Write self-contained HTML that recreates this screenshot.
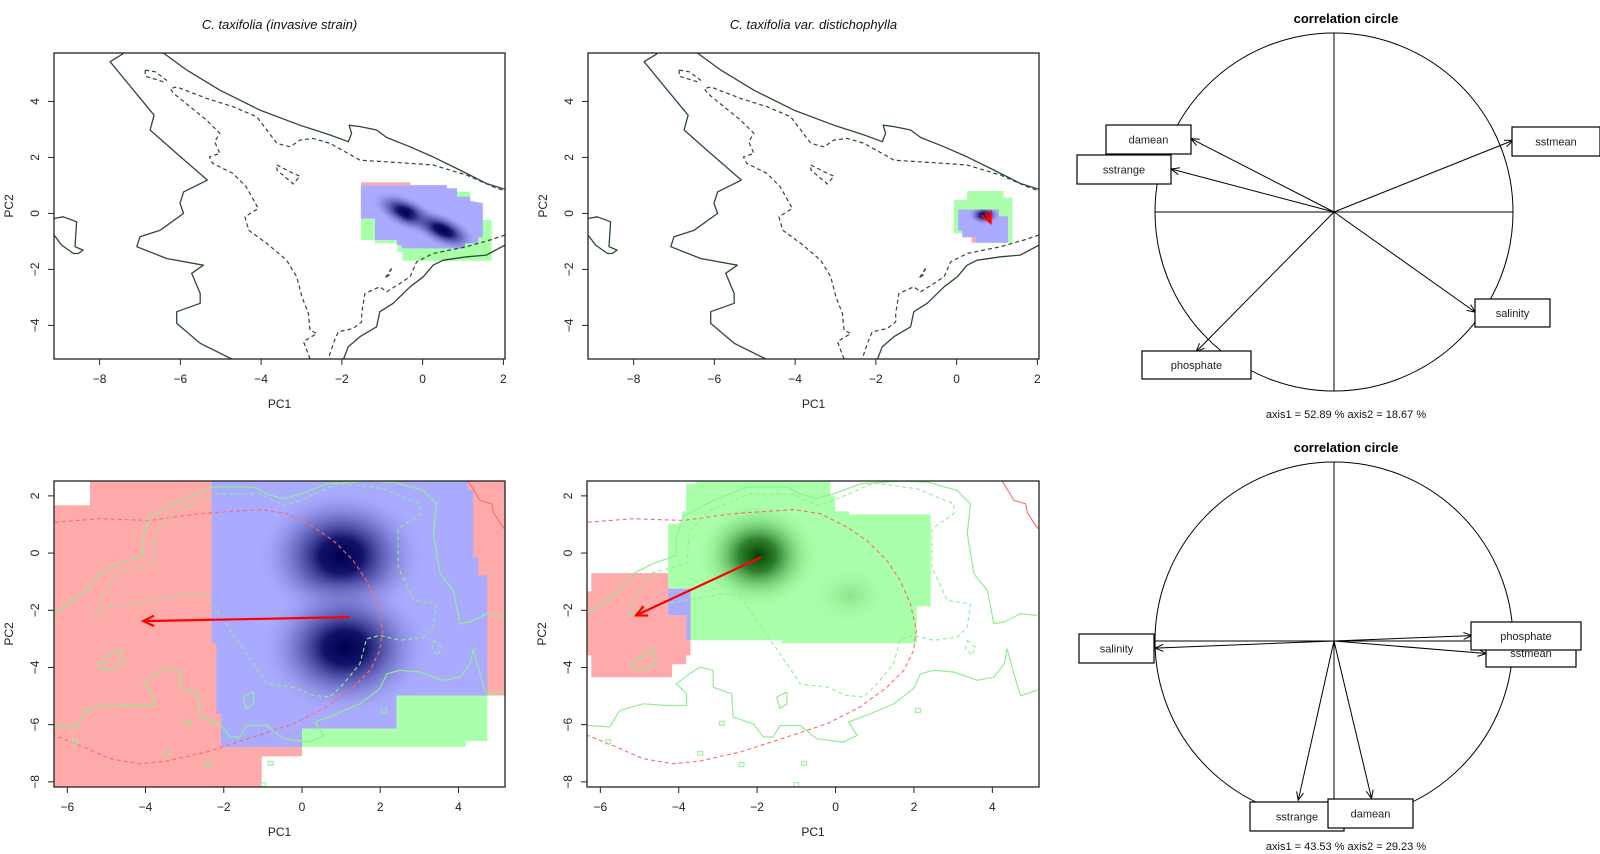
<!DOCTYPE html>
<html><head><meta charset="utf-8"><style>
html,body{margin:0;padding:0;background:#fff;}
svg{display:block;font-family:"Liberation Sans",Arial,sans-serif;}
</style></head><body>
<svg id="fig" width="1600" height="854" viewBox="0 0 1600 854" xmlns="http://www.w3.org/2000/svg">
<defs>
<radialGradient id="gNavy"><stop offset="0" stop-color="#000050" stop-opacity="1"/><stop offset="0.25" stop-color="#0a0a60" stop-opacity="0.95"/><stop offset="0.6" stop-color="#5050a8" stop-opacity="0.5"/><stop offset="1" stop-color="#aaaaff" stop-opacity="0"/></radialGradient>
<radialGradient id="gDkGreen"><stop offset="0" stop-color="#004000" stop-opacity="1"/><stop offset="0.3" stop-color="#1a6a1a" stop-opacity="0.85"/><stop offset="0.65" stop-color="#60c060" stop-opacity="0.4"/><stop offset="1" stop-color="#aaffaa" stop-opacity="0"/></radialGradient>
<radialGradient id="gLtGreen"><stop offset="0" stop-color="#80d880" stop-opacity="0.7"/><stop offset="1" stop-color="#aaffaa" stop-opacity="0"/></radialGradient>
</defs>
</svg>
<script>
// ===== data =====
const topXTicks = [-8,-6,-4,-2,0,2];
const topYTicks = [-4,-2,0,2,4];
const botXTicks = [-6,-4,-2,0,2,4];
const botYTicks = [-8,-6,-4,-2,0,2];
const tickText = t => (t<0?'\u2212'+(-t):''+t);

// top panels: environmental contours (dark green)
const envSolidA = [[-7.41,5.71],[-7.74,5.42],[-7.16,4.40],[-6.65,3.51],[-6.75,2.98],[-6.09,2.14],[-5.33,1.19],[-5.92,0.77],[-6.01,0.36],[-5.92,0],[-6.50,-0.60],[-7.0,-0.83],[-7.08,-1.19],[-6.34,-1.61],[-5.43,-1.85],[-5.72,-2.14],[-5.51,-2.86],[-5.51,-3.21],[-6.09,-3.51],[-6.09,-3.93],[-5.51,-4.64],[-4.73,-5.2]];
const envSolidB = [[-6.42,5.73],[-5.84,5.12],[-5.02,4.40],[-4.03,3.69],[-3.04,3.15],[-2.29,2.80],[-1.84,2.56],[-1.76,2.86],[-1.82,3.15],[-1.55,3.10],[-1.14,2.98],[-0.89,2.71],[-0.31,2.38],[0.26,2.02],[0.92,1.55],[1.58,1.07],[2.04,0.86]];
const envSolidC = [[2.04,-1.13],[1.58,-1.49],[1.09,-1.55],[0.51,-1.67],[0.26,-1.85],[0.02,-2.26],[-0.31,-2.62],[-0.73,-3.21],[-1.06,-3.51],[-1.14,-4.05],[-1.55,-4.40],[-1.84,-4.76],[-1.96,-5.2]];
const envSolidD = [[-9.13,-0.18],[-8.9,-0.12],[-8.57,-0.30],[-8.61,-1.19],[-8.41,-1.31],[-8.53,-1.43],[-8.65,-1.43],[-8.94,-1.13],[-9.13,-0.77]];
const envDashE = [[-6.87,5.12],[-6.62,5.06],[-6.34,4.76],[-6.42,4.70],[-6.87,4.90],[-6.87,5.12]];
const envDashF = [[-2.79,-5.2],[-2.95,-4.58],[-2.62,-4.29],[-2.79,-4.17],[-2.83,-3.57],[-2.99,-2.98],[-3.12,-2.26],[-3.37,-1.67],[-3.86,-1.07],[-4.31,-0.60],[-4.4,-0.12],[-4.07,0.18],[-4.37,0.95],[-4.7,1.43],[-5.2,1.79],[-5.28,2.02],[-5.02,2.14],[-5.15,2.56],[-5.02,2.86],[-5.35,3.33],[-5.76,3.81],[-6.17,4.29],[-6.25,4.46],[-6.09,4.52],[-5.35,4.11],[-4.69,3.81],[-4.11,3.45],[-3.86,2.98],[-3.61,2.5],[-3.28,2.38],[-3.04,2.62],[-2.71,2.68],[-2.29,2.5],[-1.55,1.90],[-0.56,1.81],[0.26,1.73],[1.09,1.37],[1.75,0.95],[2.04,0.80]];
const envDashG = [[-3.61,1.73],[-3.2,1.43],[-3.04,1.33],[-3.2,1.05],[-3.61,1.55],[-3.61,1.73]];
const envDashH = [[2.04,-0.77],[1.67,-0.95],[1.09,-1.19],[0.26,-1.43],[-0.15,-1.73],[-0.31,-2.26],[-0.56,-2.5],[-0.89,-2.8],[-1.06,-2.62],[-1.43,-2.86],[-1.51,-3.57],[-1.51,-3.87],[-1.72,-4.11],[-2.09,-4.23],[-2.21,-4.64],[-2.34,-5.2]];
const envDashI = [[-0.77,-1.96],[-0.93,-2.32],[-0.83,-2.2],[-0.77,-1.96]];

// top-left niche fills
const tlGreen = [[-1.53,-0.18],[-1.53,-0.95],[-1.18,-0.95],[-1.18,-1.07],[-0.62,-1.07],[-0.62,-1.37],[-0.5,-1.37],[-0.5,-1.69],[1.71,-1.69],[1.71,-0.24],[1.49,-0.24],[1.49,0.38],[1.18,0.38],[1.18,0.78],[0.6,0.78],[0.6,0.95],[-1.53,0.95]];
const tlBlue = [[-1.53,1.01],[0.6,1.01],[0.6,0.9],[0.85,0.9],[0.85,0.6],[1.17,0.6],[1.17,0.45],[1.49,0.36],[1.49,-0.85],[1.38,-0.85],[1.38,-1.07],[1.05,-1.07],[1.05,-1.25],[-0.52,-1.25],[-0.52,-1.13],[-0.64,-1.13],[-0.64,-0.95],[-1.18,-0.95],[-1.18,-0.18],[-1.53,-0.18]];
const tlRed = [[-1.53,1.11],[-0.3,1.11],[-0.3,1.01],[-1.53,1.01]];
const tlBlobs = [[-0.4,0.02,0.95,0.6],[0.5,-0.6,0.95,0.6]];
// top-middle niche fills
const tmGreen = [[-0.07,0.48],[0.26,0.48],[0.26,0.8],[1.16,0.8],[1.16,0.57],[1.38,0.57],[1.38,-1.05],[0.47,-1.05],[0.47,-0.85],[0.14,-0.85],[0.14,-0.71],[-0.07,-0.71]];
const tmBlue = [[0.04,0.14],[1.05,0.14],[1.05,-0.1],[1.27,-0.1],[1.27,-1.05],[0.47,-1.05],[0.47,-0.85],[0.14,-0.85],[0.14,-0.62],[0.04,-0.62]];
const tmRed = [[0.37,-0.86],[0.47,-0.86],[0.47,-1.05],[0.37,-1.05]];
const tmBlobs = [[0.68,-0.06,0.4,0.35]];
const tmArrow = [[0.72,0.04],[0.84,-0.33]];

// bottom panels: species occurrence contours
const spRedDash = [[-6.32,1.08],[-5.17,1.2],[-3.89,1.14],[-2.61,1.38],[-1.07,1.52],[-0.39,1.38],[0.29,0.91],[0.8,0.44],[1.31,-0.26],[1.65,-0.96],[1.91,-1.77],[2.06,-2.7],[1.99,-3.4],[1.74,-4.1],[1.31,-4.69],[0.63,-5.38],[-0.22,-5.97],[-1.24,-6.43],[-2.44,-6.96],[-3.46,-7.27],[-4.14,-7.37],[-4.91,-7.19],[-5.59,-6.78],[-6.32,-6.38]];
const spRedSolid = [[4.25,2.52],[4.55,1.84],[4.85,1.72],[4.89,1.43],[5.02,1.14],[5.17,0.85]];
const spGreenA = [[-6.32,-2.1],[-5.59,-1.42],[-5.17,-0.72],[-4.65,-0.37],[-4.06,-0.08],[-4.06,0.56],[-3.89,1.26],[-3.21,1.78],[-2.27,2.31],[-1.24,2.31],[-0.9,2.07],[-0.48,1.9],[-0.05,2.07],[0.63,2.42],[1.65,2.52],[2.34,2.48],[3.1,2.19],[3.44,1.72],[3.36,0.68],[3.53,-0.72],[3.87,-1.31],[4.04,-2.47],[4.3,-2.41],[4.72,-2.12],[5.15,-2.18]];
const spGreenB = [[-6.32,-6.03],[-5.76,-6.08],[-5.5,-5.5],[-4.91,-5.27],[-4.31,-5.33],[-3.8,-5.33],[-3.8,-4.92],[-4.06,-4.57],[-3.72,-4.22],[-3.46,-3.99],[-3.12,-4.1],[-3.12,-4.69],[-2.65,-4.92],[-2.61,-5.73],[-2.1,-5.97],[-1.84,-6.43],[-1.59,-6.43],[-1.42,-6.03],[-0.9,-6.03],[-0.48,-6.49],[0.2,-6.61],[0.55,-6.38],[0.33,-5.91],[0.89,-5.62],[1.48,-5.27],[1.99,-4.74],[2.17,-4.22],[2.51,-4.1],[3.02,-4.16],[3.61,-4.45],[4.04,-4.34],[4.3,-3.87],[4.38,-3.35],[4.55,-4.22],[4.72,-4.98],[5.15,-4.8]];
const spGreenC = [[-5.21,-3.87],[-4.65,-3.34],[-4.57,-3.81],[-4.83,-4.04],[-5.17,-4.04],[-5.21,-3.87]];
const spGreenD = [[-1.5,-5.03],[-1.24,-4.86],[-1.24,-5.27],[-1.42,-5.44],[-1.5,-5.03]];
const spGreenDash = [[-5.29,-2.18],[-5.08,-1.42],[-4.74,-0.72],[-3.8,-0.37],[-3.72,0.79],[-3.21,1.49],[-2.18,2.07],[-1.07,2.07],[-0.48,1.67],[-0.05,1.84],[0.97,2.45],[2.08,2.25],[3.02,1.72],[3.02,1.38],[2.46,0.85],[2.46,-0.49],[2.85,-1.66],[3.44,-1.77],[3.36,-2.59],[3.1,-2.94],[2.51,-3.05],[1.99,-2.88],[1.65,-3.0],[1.48,-3.87],[1.06,-4.57],[0.72,-5.03],[0.29,-4.98],[-0.22,-4.69],[-0.9,-4.57],[-1.42,-3.52],[-2.01,-2.35],[-2.44,-1.48],[-2.86,-1.42],[-3.63,-1.6],[-4.31,-1.77],[-4.91,-1.89],[-5.29,-2.18]];
const spGreenDash2 = [[3.36,-3.05],[3.57,-3.29],[3.48,-3.58],[3.32,-3.35],[3.36,-3.05]];
const spSmallSq = [[-2.9,-5.95],[-3.45,-7.0],[-5.8,-6.6],[-2.4,-7.4],[-0.8,-7.35],[2.1,-5.5],[-1.0,-8.1]];

// bottom-left niche fills
const blRed = [[-6.34,1.67],[-5.42,1.67],[-5.42,2.52],[5.19,2.52],[5.19,-4.98],[0,-4.98],[0,-7.11],[-1.03,-7.11],[-1.03,-8.18],[-6.34,-8.18]];
const blBlue = [[-2.31,2.52],[4.25,2.52],[4.25,2.19],[4.38,2.19],[4.38,-0.14],[4.51,-0.14],[4.51,-0.78],[4.74,-0.78],[4.74,-4.98],[2.42,-4.98],[2.42,-6.14],[0,-6.14],[0,-6.78],[-2.07,-6.78],[-2.07,-5.62],[-2.19,-5.62],[-2.19,-3.15],[-2.31,-3.15]];
const blGreen = [[0,-6.14],[2.42,-6.14],[2.42,-4.98],[4.74,-4.98],[4.74,-6.57],[4.18,-6.57],[4.18,-6.78],[0,-6.78]];
const blBlobs = [[1.0,-0.1,2.2,2.4],[1.1,-3.3,2.2,2.4]];
const blArrow = [[1.21,-2.24],[-4.06,-2.38]];
// bottom-middle niche fills
const bmGreen = [[-3.81,2.43],[-3.55,2.43],[-3.55,2.52],[-0.13,2.52],[-0.13,1.98],[-0.01,1.98],[-0.01,1.46],[0.35,1.46],[0.35,1.35],[2.43,1.35],[2.43,-1.86],[2.07,-1.86],[2.07,-3.15],[-1.38,-3.15],[-1.38,-3.05],[-3.7,-3.05],[-3.7,-1.25],[-4.27,-1.25],[-4.27,1.03],[-3.92,1.03],[-3.92,1.46],[-3.81,1.46]];
const bmBlue = [[-4.27,-1.25],[-3.7,-1.25],[-3.7,-3.05],[-3.81,-3.05],[-3.81,-2.18],[-4.27,-2.18]];
const bmRed = [[-6.23,-0.7],[-4.27,-0.7],[-4.27,-2.18],[-3.81,-2.18],[-3.81,-3.05],[-3.7,-3.05],[-3.7,-3.58],[-3.81,-3.58],[-3.81,-3.89],[-4.17,-3.89],[-4.17,-4.34],[-6.23,-4.34],[-6.23,-3.58],[-6.34,-3.58],[-6.34,-1.34],[-6.23,-1.34]];
const bmDarkBlob = [[-1.98,-0.08,1.6,1.9]];
const bmLightBlob = [[0.37,-1.48,1.1,1.1]];
const bmArrow = [[-1.89,-0.14],[-5.09,-2.18]];

// correlation circles
const cc1Vars = ['damean','sstrange','sstmean','salinity','phosphate'];
const cc1X = [-0.80,-0.91,1.00,0.79,-0.77];
const cc1Y = [0.41,0.24,0.40,-0.56,-0.78];
const cc1Axis = 'axis1 =  52.89 % axis2 =  18.67 %';
const cc2Vars = ['sstmean','phosphate','salinity','sstrange','damean'];
const cc2X = [0.85,0.77,-1.00,-0.20,0.21];
const cc2Y = [-0.07,0.03,-0.04,-0.89,-0.88];
const cc2Axis = 'axis1 =  43.53 % axis2 =  29.23 %';

// ===== drawing =====
const NS='http://www.w3.org/2000/svg';
const svg=document.getElementById('fig');
function mk(tag,attrs,parent){const e=document.createElementNS(NS,tag);for(const k in attrs)e.setAttribute(k,attrs[k]);(parent||svg).appendChild(e);return e;}
function txt(s,attrs,parent){const e=mk('text',attrs,parent);e.textContent=s;return e;}

function makePanel(p){
  const g=mk('g',{});
  
  
  p.sx=v=>p.x0+(v-p.xd[0])/(p.xd[1]-p.xd[0])*(p.x1-p.x0);
  p.sy=v=>p.y1-(v-p.yd[0])/(p.yd[1]-p.yd[0])*(p.y1-p.y0);
  p.g=g;
  const cp=mk('clipPath',{id:p.id+'clip'},g);
  mk('rect',{x:p.x0,y:p.y0,width:p.x1-p.x0,height:p.y1-p.y0},cp);
  p.inner=mk('g',{'clip-path':'url(#'+p.id+'clip)'},g);
  return p;
}
function pts(p,arr){return arr.map(d=>p.sx(d[0]).toFixed(1)+','+p.sy(d[1]).toFixed(1)).join(' ');}
function poly(p,arr,fill,name){
  const e=mk('polygon',{points:pts(p,arr),fill:fill},p.inner);
  
  
  return e;
}
function line(p,arr,stroke,dash,name,w){
  const e=mk('polyline',{points:pts(p,arr),fill:'none',stroke:stroke,'stroke-width':w||1.2,'stroke-dasharray':dash||'none','stroke-linejoin':'round'},p.inner);
  
  
  return e;
}
function blobs(p,arr,grad,clipArr,name){
  const cid=p.id+name+'c';
  const cp=mk('clipPath',{id:cid},p.g);
  mk('polygon',{points:pts(p,clipArr)},cp);
  const gg=mk('g',{'clip-path':'url(#'+cid+')'},p.inner);
  arr.forEach(b=>{
    const rx=Math.abs(p.sx(b[0]+b[2])-p.sx(b[0])), ry=Math.abs(p.sy(b[1]+b[3])-p.sy(b[1]));
    const e=mk('ellipse',{cx:p.sx(b[0]),cy:p.sy(b[1]),rx:rx,ry:ry,fill:'url(#'+grad+')',transform:p.rot?('rotate('+p.rot+' '+p.sx(b[0])+' '+p.sy(b[1])+')'):''},gg);
    
    
  });
}
function arrow(p,a,name){
  const x1=p.sx(a[0][0]),y1=p.sy(a[0][1]),x2=p.sx(a[1][0]),y2=p.sy(a[1][1]);
  const ang=Math.atan2(y2-y1,x2-x1),L=12,h=0.45;
  const d='M'+x1+','+y1+'L'+x2+','+y2+'M'+(x2-L*Math.cos(ang-h))+','+(y2-L*Math.sin(ang-h))+'L'+x2+','+y2+'L'+(x2-L*Math.cos(ang+h))+','+(y2-L*Math.sin(ang+h));
  const e=mk('path',{d:d,fill:'none',stroke:'#ff0000','stroke-width':2.2},p.inner);
  
  
}
function axes(p,xt,yt,title,ty){
  const g=p.g;
  const b=mk('rect',{x:p.x0,y:p.y0,width:p.x1-p.x0,height:p.y1-p.y0,fill:'none',stroke:'#222','stroke-width':1.3},g);
  
  
  xt.forEach(t=>{
    const x=p.sx(t);
    mk('line',{x1:x,y1:p.y1,x2:x,y2:p.y1+6,stroke:'#222'},g);
    const e=txt(tickText(t),{x:x,y:p.y1+24,'font-size':12,'text-anchor':'middle',fill:'#222'},g);
    
    
  });
  yt.forEach(t=>{
    const y=p.sy(t);
    mk('line',{x1:p.x0-6,y1:y,x2:p.x0,y2:y,stroke:'#222'},g);
    const e=txt(tickText(t),{x:p.x0-15,y:y,'font-size':12,'text-anchor':'middle',fill:'#222',transform:'rotate(-90 '+(p.x0-15)+' '+y+')'},g);
    
    
  });
  const xl=txt('PC1',{x:(p.x0+p.x1)/2,y:p.y1+49,'font-size':12,'text-anchor':'middle',fill:'#222'},g);
  
  
  const yx=p.x0-41, yy=(p.y0+p.y1)/2;
  const yl=txt('PC2',{x:yx,y:yy,'font-size':12,'text-anchor':'middle',fill:'#222',transform:'rotate(-90 '+yx+' '+yy+')'},g);
  
  
  if(title){
    const tt=txt(title,{x:(p.x0+p.x1)/2,y:ty,'font-size':13,'font-style':'italic','text-anchor':'middle',fill:'#111'},g);
    
    
  }
}
const DK='#2e4a2e', LG='#90ee90', RD='#ff6a6a';
function envContours(p){
  [envSolidA,envSolidB,envSolidC,envSolidD].forEach(a=>line(p,a,DK,null,'env-contour-solid',1.3));
  [envDashE,envDashF,envDashG,envDashH,envDashI].forEach(a=>line(p,a,DK,'4,3','env-contour-dashed',1.2));
}
function spContours(p){
  line(p,spRedDash,RD,'4,3','red-dashed-contour',1.1);
  line(p,spRedSolid,RD,null,'red-solid-contour',1.1);
  [spGreenA,spGreenB,spGreenC,spGreenD].forEach(a=>line(p,a,LG,null,'green-contour-solid',1.2));
  [spGreenDash,spGreenDash2].forEach(a=>line(p,a,LG,'4,3','green-contour-dashed',1.1));
  spSmallSq.forEach(s=>{
    const e=mk('rect',{x:p.sx(s[0])-2.5,y:p.sy(s[1])-2,width:5,height:4,fill:'none',stroke:LG},p.inner);
    
    
  });
}

// top-left
const TL=makePanel({id:'tl',name:'panel-invasive-strain-env',x0:54,x1:505,y0:53,y1:359,xd:[-9.13,2.04],yd:[-5.2,5.73],rot:25});
poly(TL,tlGreen,'#aaffaa','green-niche-area');
poly(TL,tlBlue,'#aaaaff','blue-niche-area');
poly(TL,tlRed,'#ffaaaa','red-niche-area');
blobs(TL,tlBlobs,'gNavy',tlBlue,'density-peak');
envContours(TL);
axes(TL,topXTicks,topYTicks,'C. taxifolia (invasive strain)',29);

// top-middle
const TM=makePanel({id:'tm',name:'panel-distichophylla-env',x0:588,x1:1039,y0:53,y1:359,xd:[-9.13,2.04],yd:[-5.2,5.73]});
poly(TM,tmGreen,'#aaffaa','green-niche-area');
poly(TM,tmBlue,'#aaaaff','blue-niche-area');
poly(TM,tmRed,'#ffaaaa','red-niche-area');
blobs(TM,tmBlobs,'gNavy',tmBlue,'density-peak');
envContours(TM);
arrow(TM,tmArrow,'centroid-shift-arrow');
axes(TM,topXTicks,topYTicks,'C. taxifolia var. distichophylla',29);

// bottom-left
const BL=makePanel({id:'bl',name:'panel-invasive-strain-niche',x0:54,x1:505,y0:481,y1:787,xd:[-6.34,5.19],yd:[-8.18,2.52]});
poly(BL,blRed,'#ffaaaa','red-niche-area');
poly(BL,blBlue,'#aaaaff','blue-niche-area');
poly(BL,blGreen,'#aaffaa','green-niche-area');
blobs(BL,blBlobs,'gNavy',blBlue,'density-peak');
spContours(BL);
arrow(BL,blArrow,'centroid-shift-arrow');
axes(BL,botXTicks,botYTicks,null,0);

// bottom-middle
const BM=makePanel({id:'bm',name:'panel-distichophylla-niche',x0:587,x1:1039,y0:481,y1:787,xd:[-6.34,5.19],yd:[-8.18,2.52]});
poly(BM,bmGreen,'#aaffaa','green-niche-area');
poly(BM,bmBlue,'#aaaaff','blue-niche-area');
poly(BM,bmRed,'#ffaaaa','red-niche-area');
blobs(BM,bmLightBlob,'gLtGreen',bmGreen,'density-peak-secondary');
blobs(BM,bmDarkBlob,'gDkGreen',bmGreen,'density-peak');
spContours(BM);
arrow(BM,bmArrow,'centroid-shift-arrow');
axes(BM,botXTicks,botYTicks,null,0);

// correlation circles
function corrCircle(cfg,vars,xs,ys,axisText){
  const g=mk('g',{});
  
  
  const cx=cfg.cx,cy=cfg.cy,r=cfg.r;
  const t=txt('correlation circle',{x:cx+12,y:cfg.cy-r-10,'font-size':13,'font-weight':'bold','text-anchor':'middle',fill:'#000'},g);
  
  
  const c=mk('circle',{cx:cx,cy:cy,r:r,fill:'none',stroke:'#000','stroke-width':1},g);
  
  
  mk('line',{x1:cx-r,y1:cy,x2:cx+r,y2:cy,stroke:'#000'},g);
  mk('line',{x1:cx,y1:cy-r,x2:cx,y2:cy+r,stroke:'#000'},g);
  vars.forEach((v,i)=>{
    const x2=cx+xs[i]*r,y2=cy-ys[i]*r,ang=Math.atan2(y2-cy,x2-cx),L=9,h=0.4;
    const d='M'+cx+','+cy+'L'+x2+','+y2+'M'+(x2-L*Math.cos(ang-h))+','+(y2-L*Math.sin(ang-h))+'L'+x2+','+y2+'L'+(x2-L*Math.cos(ang+h))+','+(y2-L*Math.sin(ang+h));
    const a=mk('path',{d:d,fill:'none',stroke:'#000','stroke-width':1},g);
    
    
  });
  vars.forEach((v,i)=>{
    const b=cfg.boxes[i];
    const bx=mk('rect',{x:b[0],y:b[1],width:b[2],height:b[3],fill:'#fff',stroke:'#000','stroke-width':1.2},g);
    
    
    const tl=txt(v,{x:b[0]+b[2]/2,y:b[1]+b[3]/2+4,'font-size':11,'text-anchor':'middle',fill:'#222'},g);
    
    
  });
  const ax=txt(axisText,{x:cx+12,y:cfg.axisY,'font-size':11,'text-anchor':'middle',fill:'#111'},g);
  
  
}
corrCircle({name:'correlation-circle-top',cx:1334,cy:212,r:179,axisY:418,
  boxes:[[1106,125,85,29],[1077,155,94,29],[1512,127,88,29],[1475,299,75,28],[1142,351,109,28]]},
  cc1Vars,cc1X,cc1Y,cc1Axis);
corrCircle({name:'correlation-circle-bottom',cx:1334,cy:641,r:179,axisY:850,
  boxes:[[1486,639,90,28],[1471,622,110,28],[1079,634,75,29],[1250,802,94,29],[1328,799,85,29]]},
  cc2Vars,cc2X,cc2Y,cc2Axis);
</script>
</body></html>
